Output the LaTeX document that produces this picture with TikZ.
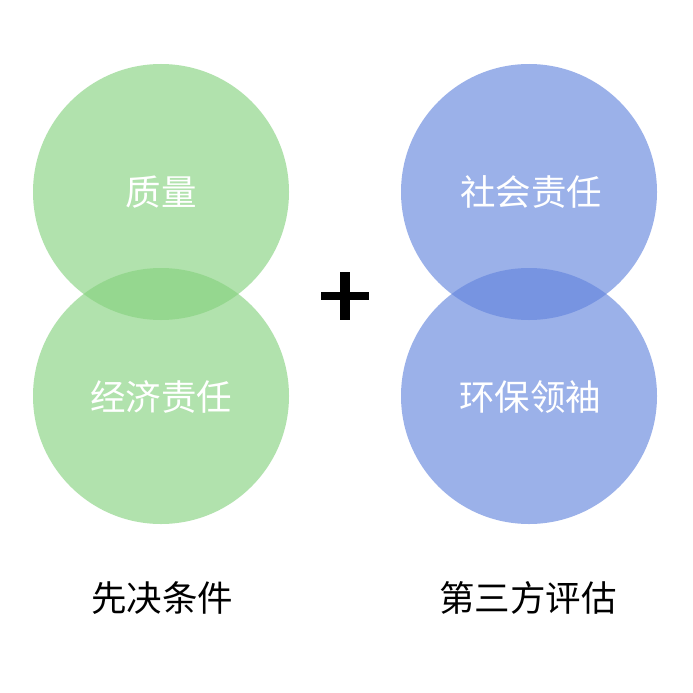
\documentclass[tikz,border=0pt]{standalone}
\usepackage{fontspec}
\usetikzlibrary{calc}
\setmainfont{Noto Sans CJK SC}
\definecolor{gfill}{RGB}{134,210,127}
\definecolor{bfill}{RGB}{99,133,222}
\begin{document}
\begin{tikzpicture}[x=1pt,y=-1pt,
  circ/.style={circle,minimum size=256pt,inner sep=0pt,fill opacity=0.64,draw=none},
  gcirc/.style={circ,fill=gfill},
  bcirc/.style={circ,fill=bfill},
  intext/.style={text=white,font=\fontsize{35.5}{40}\selectfont,text opacity=1},
  caption/.style={text=black,font=\fontsize{35.5}{40}\selectfont}]
\useasboundingbox (0,0) rectangle (693,693);
\fill[white] (0,0) rectangle (693,693);
\node[gcirc] (g1) at (161,192) {};
\node[gcirc] (g2) at (161,396) {};
\node[bcirc] (b1) at (529,192) {};
\node[bcirc] (b2) at (529,396) {};
\node[intext] (t1) at (161,192) {质量};
\node[intext] (t2) at (161,397) {经济责任};
\node[intext] (t3) at (531,192) {社会责任};
\node[intext] (t4) at (530,397) {环保领袖};
\node[caption] (c1) at (162,598) {先决条件};
\node[caption] (c2) at (528,598) {第三方评估};
\coordinate (plus) at (345,296);
\fill[black] ($(plus)+(-24,-4)$) rectangle ($(plus)+(24,4)$);
\fill[black] ($(plus)+(-5,-24)$) rectangle ($(plus)+(5,24)$);
\end{tikzpicture}
\end{document}
